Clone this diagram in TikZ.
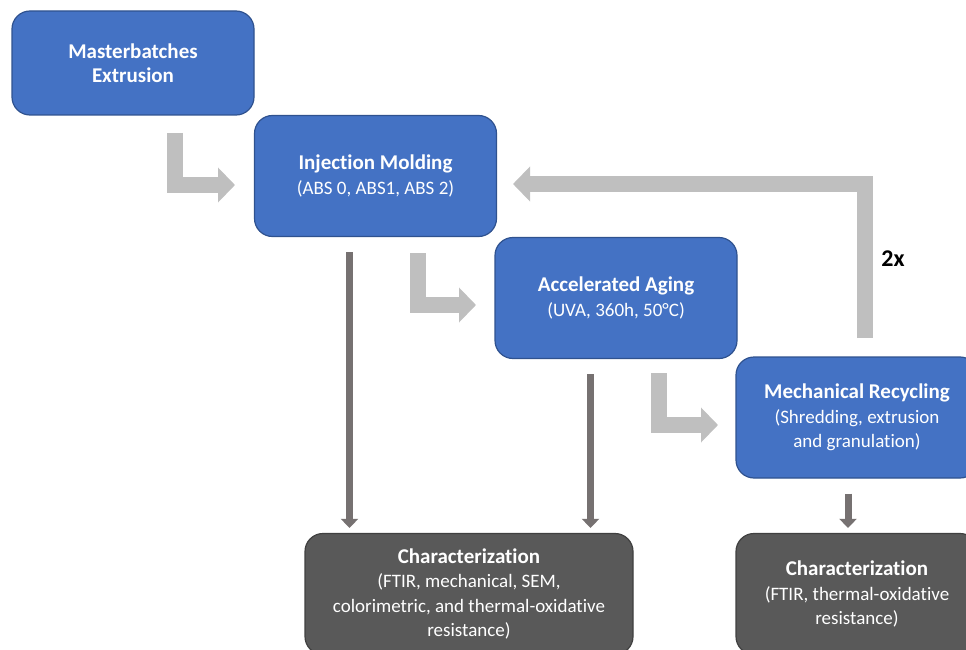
\documentclass[tikz,border=0pt]{standalone}
\usepackage{fontspec}
\setmainfont[Ligatures=NoCommon]{Carlito}
\usetikzlibrary{arrows.meta,calc}
\definecolor{bleu}{HTML}{4472C4}
\definecolor{bleuBord}{HTML}{2F528F}
\definecolor{grisFonce}{HTML}{595959}
\definecolor{grisBord}{HTML}{404040}
\definecolor{grisClair}{HTML}{BFBFBF}
\definecolor{grisFleche}{HTML}{767171}
\newcommand{\etapeTitre}[1]{{\fontsize{21}{24.5}\selectfont\bfseries #1}}
\begin{document}
\begin{tikzpicture}[x=1pt,y=-1pt]
		\useasboundingbox (0,0) rectangle (966,650);
		\tikzstyle{etape}=[minimum width=242pt, minimum height=121pt, rounded corners=18pt, draw=bleuBord, line width=1.2pt, fill=bleu, text=white, align=center, font=\fontsize{19}{24.5}\selectfont]
		\tikzstyle{carac}=[etape, fill=grisFonce, draw=grisBord]
		\tikzstyle{coude}=[line width=16pt, draw=grisClair, line join=miter, -{Triangle[length=17pt,width=34pt]}]
		\tikzstyle{descente}=[line width=7pt, draw=grisFleche, -{Triangle[length=9pt,width=17pt]}, shorten <=15pt, shorten >=5pt]
		\node[etape, minimum height=104pt] (mb) at (133,63) {\etapeTitre{Masterbatches}\\\etapeTitre{Extrusion}};
		\node[etape] (im) at (375.5,176) {\etapeTitre{Injection Molding}\\(ABS 0, ABS1, ABS 2)};
		\node[etape] (aa) at (616,298) {\etapeTitre{Accelerated Aging}\\(UVA, 360h, 50°C)};
		\node[etape] (mr) at (857,417.5) {\etapeTitre{Mechanical Recycling}\\(Shredding, extrusion\\and granulation)};
		\node[carac, minimum width=328pt] (ch1) at (469,594) {\etapeTitre{Characterization}\\(FTIR, mechanical, SEM,\\colorimetric, and thermal-oxidative\\resistance)}; % gauche
		\node[carac] (ch2) at (857,594) {\etapeTitre{Characterization}\\(FTIR, thermal-oxidative\\resistance)}; % droite
		% fleches grises en coude
		\coordinate (c1a) at (175,133); \coordinate (c1b) at (235,185);
		\coordinate (c2a) at (418,253); \coordinate (c2b) at (476,305);
		\coordinate (c3a) at (659,373); \coordinate (c3b) at (718,425);
		\coordinate (r1) at (865,338); \coordinate (r2) at (513,184);
		\draw[coude] (c1a) |- (c1b);
		\draw[coude] (c2a) |- (c2b);
		\draw[coude] (c3a) |- (c3b);
		\draw[coude] (r1) |- (r2); % retour
		\node[font=\fontsize{24}{28}\selectfont\bfseries] (fois) at (893,259) {2x};
		% vers caracterisation
		\coordinate (d1) at ($(im.south)+(-26,0)$);
		\coordinate (d2) at ($(aa.south)+(-25.5,0)$);
		\coordinate (d3) at ($(mr.south)+(-9,0)$);
		\draw[descente] (d1) -- (d1 |- ch1.north);
		\draw[descente] (d2) -- (d2 |- ch1.north);
		\draw[descente] (d3) -- (d3 |- ch2.north);
	\end{tikzpicture}
\end{document}
